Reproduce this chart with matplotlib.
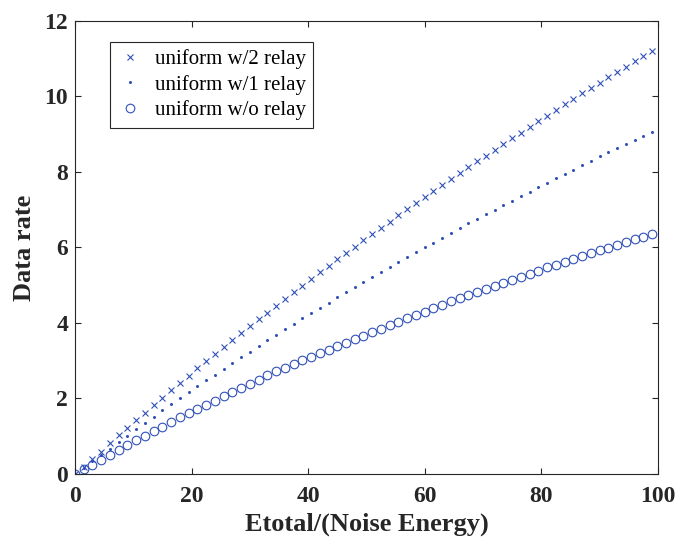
import numpy as np
import matplotlib
matplotlib.use("Agg")
import matplotlib.pyplot as plt

plt.rcParams['font.family'] = ['Liberation Serif', 'DejaVu Serif']

# Etotal/(Noise Energy), sampled every 1.5 from 0 to 99
energia = np.arange(0, 99.01, 1.5)

rate_2relay = [0, 0.19, 0.39, 0.59, 0.81, 1.02, 1.23, 1.42, 1.62, 1.83, 2.02,
               2.23, 2.42, 2.60, 2.80, 2.99, 3.18, 3.37, 3.56, 3.74, 3.92, 4.11,
               4.27, 4.46, 4.64, 4.81, 4.99, 5.17, 5.34, 5.51, 5.69, 5.85, 6.02,
               6.19, 6.36, 6.52, 6.68, 6.85, 7.01, 7.18, 7.34, 7.50, 7.66, 7.82,
               7.97, 8.13, 8.28, 8.43, 8.59, 8.74, 8.89, 9.04, 9.19, 9.34, 9.49,
               9.64, 9.79, 9.93, 10.08, 10.23, 10.37, 10.51, 10.65, 10.79, 10.93,
               11.07, 11.21]
rate_1relay = [0, 0.17, 0.34, 0.51, 0.67, 0.84, 1.01, 1.18, 1.35, 1.52, 1.69,
               1.85, 2.00, 2.16, 2.32, 2.48, 2.63, 2.79, 2.94, 3.09, 3.23, 3.38,
               3.54, 3.69, 3.83, 3.98, 4.12, 4.26, 4.41, 4.54, 4.68, 4.81, 4.95,
               5.09, 5.21, 5.34, 5.48, 5.61, 5.74, 5.87, 6.01, 6.13, 6.25, 6.38,
               6.51, 6.64, 6.75, 6.88, 7.00, 7.13, 7.24, 7.36, 7.48, 7.60, 7.72,
               7.83, 7.95, 8.06, 8.18, 8.29, 8.41, 8.52, 8.64, 8.75, 8.86, 8.96,
               9.07]
rate_norelay = [0, 0.12, 0.24, 0.37, 0.51, 0.64, 0.77, 0.89, 1.01, 1.14, 1.25,
                1.38, 1.50, 1.61, 1.72, 1.84, 1.94, 2.06, 2.16, 2.28, 2.39, 2.50,
                2.61, 2.72, 2.82, 2.92, 3.01, 3.11, 3.20, 3.29, 3.39, 3.48, 3.57,
                3.66, 3.76, 3.85, 3.94, 4.03, 4.12, 4.21, 4.30, 4.39, 4.48, 4.57,
                4.66, 4.75, 4.83, 4.91, 4.99, 5.07, 5.15, 5.23, 5.31, 5.39, 5.47,
                5.54, 5.62, 5.70, 5.77, 5.85, 5.92, 5.99, 6.07, 6.15, 6.22, 6.29,
                6.36]

azul = '#3050b8'
gris = '#262626'

fig = plt.figure(figsize=(6.91, 5.42), dpi=100)
ax = fig.add_axes([0.1085, 0.1255, 0.8435, 0.8358])

ax.plot(energia, rate_2relay, linestyle='none', marker='x', ms=4.5,
        mew=0.8, color=azul, label='uniform w/2 relay')
ax.plot(energia, rate_1relay, linestyle='none', marker='o', ms=2.2,
        mew=0, color=azul, label='uniform w/1 relay')
ax.plot(energia, rate_norelay, linestyle='none', marker='o', ms=6.2,
        mew=0.8, mfc='none', color=azul, label='uniform w/o relay')

ax.set_xlim(0, 100)
ax.set_ylim(0, 12)
ax.set_xticks(range(0, 101, 20))
ax.set_yticks(range(0, 13, 2))
ax.tick_params(direction='in', top=True, right=True, length=4.5, width=0.8,
               colors=gris, labelsize=17, pad=5)
ax.tick_params(axis='x', pad=9)
for lbl in ax.get_xticklabels() + ax.get_yticklabels():
    lbl.set_fontweight('bold')
for s in ax.spines.values():
    s.set_color(gris)
    s.set_linewidth(0.8)

ax.set_xlabel('Etotal/(Noise Energy)', fontsize=19, fontweight='bold',
              color=gris, labelpad=4)
ax.set_ylabel('Data rate', fontsize=19, fontweight='bold', color=gris,
              labelpad=6)

leg = ax.legend(loc='upper left', bbox_to_anchor=(0.06, 0.954),
                borderaxespad=0, fancybox=False, framealpha=1,
                edgecolor=gris, fontsize=15, handlelength=1.2,
                handletextpad=0.6, borderpad=0.35, labelspacing=0.28)
leg.get_frame().set_linewidth(0.8)

fig.savefig('out.png', dpi=100)
